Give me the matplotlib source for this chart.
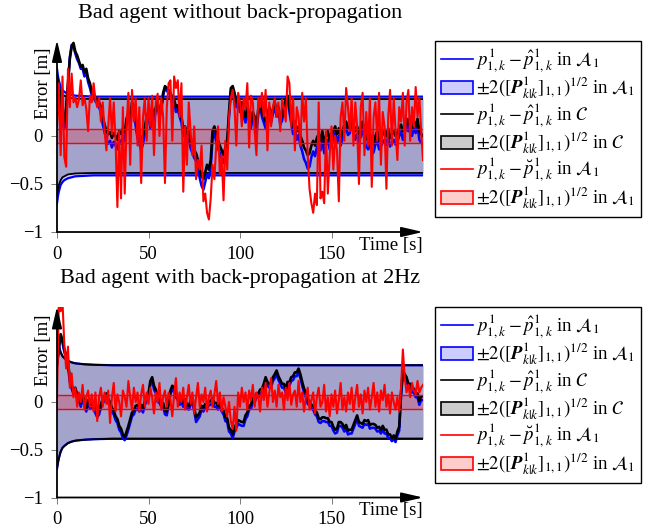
import numpy as np
import matplotlib
matplotlib.use("Agg")
from matplotlib import pyplot as plt
from matplotlib.lines import Line2D
from matplotlib.patches import Patch

plt.rcParams['font.family'] = ['Liberation Serif', 'DejaVu Serif']
plt.rcParams['mathtext.fontset'] = 'stix'

# time stamps [s]
t_sec = np.arange(0, 201)

# covariance bounds (symmetric, +/-)
bound_t = [0, 0.5, 1, 2, 3, 4, 6, 8, 10, 15, 20, 30, 200]
top_bound_a1 = [0.70, 0.63, 0.58, 0.51, 0.48, 0.46, 0.44, 0.43, 0.42, 0.415, 0.41, 0.41, 0.41]
top_bound_c = [0.62, 0.55, 0.51, 0.46, 0.43, 0.42, 0.40, 0.395, 0.39, 0.387, 0.385, 0.385, 0.385]
bot_bound_a1 = [0.70, 0.64, 0.59, 0.52, 0.48, 0.46, 0.43, 0.415, 0.405, 0.395, 0.39, 0.385, 0.385]
bot_bound_c = [0.70, 0.64, 0.59, 0.52, 0.48, 0.46, 0.43, 0.415, 0.405, 0.395, 0.39, 0.385, 0.385]
red_t = [0, 200]
red_bound = [0.07, 0.07]

# top panel: bad agent without back-propagation
top_black = [0.62, 0.50, 0.35, 0.20, 0.15, 0.30, 0.55, 0.80, 0.93, 0.97,
             0.88, 0.84, 0.78, 0.72, 0.74, 0.66, 0.70, 0.60, 0.55, 0.46,
             0.44, 0.40, 0.38, 0.35, 0.30, 0.20, 0.12, 0.05, 0.02, 0.04,
             -0.02, 0.03, 0.00, -0.04, 0.05, 0.02, 0.08, 0.04, 0.18, 0.24,
             0.20, 0.35, 0.30, 0.18, 0.08, 0.02, -0.05, 0.00, 0.10, 0.20,
             0.25, 0.15, 0.28, 0.22, 0.30, 0.35, 0.25, 0.30, 0.45, 0.52,
             0.50, 0.48, 0.45, 0.40, 0.38, 0.30, 0.32, 0.25, 0.20, 0.08,
             0.10, 0.02, 0.05, -0.05, -0.10, -0.15, -0.18, -0.25, -0.35, -0.42,
             -0.45, -0.38, -0.30, -0.35, -0.25, 0.05, 0.10, 0.02, -0.05, -0.10,
             -0.15, -0.20, -0.12, -0.05, 0.25, 0.50, 0.52, 0.45, 0.35, 0.40,
             0.30, 0.35, 0.25, 0.20, 0.30, 0.22, 0.15, 0.25, 0.20, 0.10,
             0.28, 0.35, 0.25, 0.20, 0.15, 0.22, 0.30, 0.20, 0.28, 0.35,
             0.25, 0.30, 0.18, 0.22, 0.30, 0.38, 0.42, 0.30, 0.20, 0.10,
             0.15, 0.05, 0.10, 0.00, -0.05, -0.12, -0.15, -0.20, -0.18, -0.10,
             -0.05, -0.10, -0.02, 0.02, -0.05, 0.05, -0.08, 0.00, 0.05, -0.05,
             0.00, 0.05, 0.10, 0.02, 0.08, -0.02, 0.05, 0.12, 0.15, 0.08,
             0.10, 0.18, 0.12, 0.05, 0.10, 0.02, 0.08, 0.15, 0.05, -0.02,
             -0.05, 0.02, -0.10, -0.08, 0.00, 0.05, -0.05, -0.02, 0.02, 0.05,
             0.00, 0.08, -0.02, 0.02, 0.05, 0.00, 0.03, 0.08, 0.12, 0.05,
             0.10, 0.18, 0.12, 0.20, 0.08, 0.15, 0.10, 0.18, 0.05, 0.02, 0.00]
top_blue = [0.58, 0.45, 0.30, 0.12, 0.08, 0.26, 0.52, 0.82, 0.95, 0.93,
            0.86, 0.80, 0.76, 0.70, 0.70, 0.62, 0.66, 0.56, 0.50, 0.42,
            0.40, 0.36, 0.34, 0.30, 0.24, 0.12, 0.04, -0.04, -0.08, -0.05,
            -0.12, -0.06, -0.10, -0.14, -0.04, -0.08, 0.00, -0.05, 0.12, 0.20,
            0.15, 0.30, 0.25, 0.10, -0.02, -0.08, -0.15, -0.08, 0.02, 0.14,
            0.20, 0.08, 0.22, 0.16, 0.26, 0.32, 0.20, 0.26, 0.42, 0.50,
            0.47, 0.45, 0.42, 0.36, 0.34, 0.25, 0.28, 0.20, 0.14, 0.00,
            0.02, -0.06, -0.03, -0.13, -0.18, -0.23, -0.26, -0.34, -0.44, -0.52,
            -0.56, -0.48, -0.40, -0.44, -0.33, -0.03, 0.03, -0.06, -0.13, -0.18,
            -0.23, -0.28, -0.20, -0.12, 0.20, 0.47, 0.49, 0.41, 0.30, 0.36,
            0.25, 0.31, 0.20, 0.14, 0.26, 0.16, 0.08, 0.20, 0.14, 0.03,
            0.23, 0.31, 0.20, 0.14, 0.08, 0.16, 0.26, 0.14, 0.23, 0.31,
            0.20, 0.26, 0.12, 0.16, 0.26, 0.35, 0.38, 0.25, 0.13, 0.02,
            0.07, -0.04, 0.01, -0.10, -0.16, -0.24, -0.28, -0.34, -0.32, -0.22,
            -0.16, -0.21, -0.12, -0.08, -0.15, -0.05, -0.18, -0.09, -0.04, -0.14,
            -0.08, -0.03, 0.03, -0.06, 0.00, -0.10, -0.03, 0.05, 0.09, 0.01,
            0.03, 0.12, 0.05, -0.04, 0.02, -0.07, 0.00, 0.08, -0.04, -0.11,
            -0.14, -0.07, -0.19, -0.17, -0.09, -0.04, -0.14, -0.11, -0.07, -0.04,
            -0.09, 0.00, -0.11, -0.07, -0.04, -0.09, -0.06, 0.00, 0.05, -0.04,
            0.03, 0.12, 0.05, 0.14, 0.00, 0.08, 0.03, 0.12, -0.04, -0.07, -0.09]
top_red = [0.10, 0.55, -0.20, 0.62, -0.22, -0.32, 0.70, 0.30, 0.65, 0.35,
           0.40, 0.30, 0.38, 0.58, 0.32, 0.40, 0.28, 0.05, 0.42, 0.35,
           0.55, 0.38, 0.30, 0.40, 0.15, 0.35, 0.05, -0.15, 0.10, 0.40,
           0.02, 0.35, -0.05, -0.74, 0.05, -0.65, 0.30, -0.60, 0.10, 0.45,
           -0.30, 0.48, 0.15, 0.40, -0.10, 0.30, -0.49, 0.20, 0.40, -0.05,
           0.40, 0.10, 0.42, -0.20, 0.35, 0.44, 0.00, 0.40, 0.20, -0.49,
           0.30, 0.55, 0.58, -0.05, 0.62, 0.50, 0.58, 0.20, 0.55, -0.58,
           0.10, -0.30, 0.35, 0.05, -0.20, 0.10, -0.45, -0.25, -0.35, -0.10,
           -0.68, -0.60, -0.80, -0.87, -0.65, -0.30, -0.45, -0.10, 0.10, -0.40,
           -0.20, -0.67, -0.05, -0.35, 0.20, 0.40, 0.48, 0.30, -0.10, 0.45,
           0.35, 0.10, 0.40, 0.28, 0.55, -0.12, 0.42, 0.35, 0.05, -0.20,
           0.40, 0.30, 0.45, 0.20, 0.48, -0.15, 0.35, 0.10, 0.30, 0.40,
           0.20, 0.35, 0.05, 0.38, 0.30, 0.15, 0.62, 0.55, 0.10, 0.40,
           -0.15, 0.30, 0.20, -0.10, 0.45, 0.15, 0.40, -0.20, -0.55, -0.70,
           -0.80, -0.60, -0.72, 0.35, -0.65, -0.58, -0.70, 0.05, -0.60, -0.20,
           0.10, -0.35, 0.00, -0.15, -0.68, 0.20, 0.35, -0.05, 0.50, 0.30,
           0.05, 0.40, -0.10, 0.35, 0.10, -0.50, 0.30, 0.45, -0.20, 0.25,
           -0.10, 0.40, -0.53, 0.20, 0.35, -0.05, 0.45, -0.30, 0.25, 0.10,
           -0.55, 0.20, 0.48, -0.10, 0.40, 0.05, -0.25, 0.30, 0.15, 0.45,
           -0.10, 0.35, 0.48, -0.05, 0.30, 0.10, 0.51, 0.20, 0.40, 0.05, -0.25]

# bottom panel: bad agent with back-propagation at 2 Hz
bot_black = [0.40, 0.57, 0.71, 0.65, 0.55, 0.50, 0.42, 0.25, 0.18, 0.12,
             0.15, 0.08, 0.05, -0.01, 0.08, 0.00, -0.06, 0.02, -0.02, -0.03,
             0.00, -0.08, -0.12, -0.09, -0.02, 0.03, 0.05, 0.09, 0.03, 0.00,
             -0.06, -0.09, -0.15, -0.18, -0.25, -0.28, -0.34, -0.37, -0.31, -0.25,
             -0.18, -0.11, -0.09, -0.04, -0.03, -0.06, -0.03, -0.07, 0.01, 0.05,
             0.09, 0.22, 0.26, 0.17, 0.13, 0.04, 0.03, -0.01, -0.01, -0.09,
             -0.10, 0.01, 0.12, 0.17, 0.15, 0.09, 0.06, 0.01, 0.04, -0.01,
             0.03, -0.03, -0.04, 0.01, 0.04, -0.06, -0.16, -0.14, -0.11, -0.04,
             -0.06, -0.02, -0.03, 0.01, 0.01, 0.04, -0.01, -0.01, -0.04, -0.01,
             -0.06, -0.09, -0.16, -0.17, -0.27, -0.29, -0.34, -0.27, -0.23, -0.19,
             -0.20, -0.21, -0.21, -0.14, -0.11, -0.04, -0.03, 0.04, 0.04, 0.09,
             0.09, 0.13, 0.14, 0.19, 0.26, 0.21, 0.19, 0.19, 0.26, 0.29,
             0.33, 0.27, 0.23, 0.19, 0.19, 0.14, 0.21, 0.21, 0.26, 0.27,
             0.31, 0.31, 0.35, 0.29, 0.21, 0.14, 0.09, 0.02, 0.01, -0.03,
             -0.04, -0.09, -0.11, -0.17, -0.18, -0.16, -0.16, -0.17, -0.17, -0.21,
             -0.21, -0.26, -0.29, -0.28, -0.21, -0.21, -0.23, -0.27, -0.24, -0.30,
             -0.29, -0.29, -0.24, -0.19, -0.14, -0.21, -0.22, -0.23, -0.19, -0.20,
             -0.19, -0.24, -0.23, -0.23, -0.24, -0.27, -0.26, -0.29, -0.25, -0.29,
             -0.29, -0.34, -0.34, -0.38, -0.35, -0.39, -0.31, -0.26, 0.10, 0.33,
             0.29, 0.26, 0.19, 0.19, 0.14, 0.14, 0.09, 0.09, 0.01, 0.06, 0.06]
bot_blue = [0.38, 0.55, 0.68, 0.62, 0.52, 0.46, 0.38, 0.21, 0.14, 0.08,
            0.11, 0.04, 0.01, -0.05, 0.04, -0.04, -0.10, -0.02, -0.06, -0.07,
            -0.04, -0.12, -0.16, -0.13, -0.06, -0.01, 0.01, 0.05, -0.01, -0.04,
            -0.10, -0.13, -0.19, -0.22, -0.29, -0.32, -0.38, -0.40, -0.35, -0.29,
            -0.22, -0.15, -0.13, -0.08, -0.07, -0.10, -0.07, -0.11, -0.03, 0.01,
            0.05, 0.18, 0.23, 0.13, 0.09, 0.00, -0.01, -0.05, -0.05, -0.13,
            -0.14, -0.03, 0.08, 0.13, 0.11, 0.05, 0.02, -0.03, 0.00, -0.05,
            -0.01, -0.07, -0.08, -0.03, 0.00, -0.10, -0.21, -0.18, -0.15, -0.08,
            -0.10, -0.06, -0.07, -0.03, -0.03, 0.00, -0.05, -0.05, -0.08, -0.05,
            -0.10, -0.13, -0.20, -0.21, -0.31, -0.33, -0.38, -0.31, -0.27, -0.23,
            -0.24, -0.25, -0.25, -0.18, -0.15, -0.08, -0.07, 0.00, 0.00, 0.05,
            0.05, 0.09, 0.10, 0.15, 0.22, 0.17, 0.15, 0.15, 0.22, 0.25,
            0.29, 0.23, 0.19, 0.15, 0.15, 0.10, 0.17, 0.17, 0.22, 0.23,
            0.27, 0.27, 0.31, 0.25, 0.17, 0.10, 0.05, -0.02, -0.03, -0.07,
            -0.08, -0.13, -0.15, -0.21, -0.22, -0.20, -0.20, -0.21, -0.21, -0.25,
            -0.25, -0.30, -0.33, -0.32, -0.25, -0.25, -0.27, -0.31, -0.28, -0.34,
            -0.33, -0.33, -0.28, -0.23, -0.18, -0.25, -0.26, -0.27, -0.23, -0.24,
            -0.23, -0.28, -0.27, -0.27, -0.28, -0.31, -0.30, -0.33, -0.29, -0.33,
            -0.33, -0.38, -0.38, -0.41, -0.39, -0.42, -0.35, -0.30, 0.06, 0.29,
            0.25, 0.22, 0.15, 0.15, 0.10, 0.10, 0.05, 0.05, -0.03, 0.02, 0.02]
bot_red = [0.05, 1.05, 0.95, 1.05, 0.60, 0.35, 0.58, 0.15, 0.30, 0.05,
           0.15, -0.05, 0.10, 0.00, 0.18, -0.08, 0.05, 0.12, -0.05, 0.08,
           -0.10, 0.10, -0.20, 0.05, 0.15, -0.05, 0.10, -0.02, 0.12, -0.22,
           0.05, 0.20, -0.10, 0.08, 0.00, -0.15, 0.12, 0.05, -0.05, 0.22,
           0.05, -0.08, 0.15, 0.00, 0.10, -0.10, 0.08, 0.18, -0.05, 0.10,
           -0.02, 0.15, 0.05, -0.12, 0.10, 0.00, 0.20, -0.08, 0.05, 0.12,
           -0.05, 0.10, 0.02, -0.15, 0.08, 0.25, -0.05, 0.10, 0.00, 0.15,
           -0.08, 0.05, 0.18, -0.02, 0.10, -0.12, 0.05, 0.20, -0.05, 0.08,
           0.00, 0.15, -0.10, 0.05, 0.12, -0.05, 0.08, 0.22, -0.02, 0.10,
           -0.10, 0.05, -0.05, -0.15, 0.00, -0.20, -0.28, -0.05, -0.30, 0.10,
           -0.05, 0.15, 0.00, 0.10, -0.08, 0.12, 0.02, 0.18, -0.05, 0.10,
           0.05, -0.10, 0.15, 0.02, 0.20, -0.05, 0.10, 0.25, 0.00, 0.12,
           -0.05, 0.18, 0.05, 0.10, -0.08, 0.15, 0.02, 0.20, -0.03, 0.08,
           0.12, -0.05, 0.22, 0.00, 0.10, -0.10, 0.05, 0.15, -0.08, 0.02,
           0.10, -0.12, 0.05, 0.15, -0.05, 0.00, 0.18, -0.10, 0.05, -0.15,
           0.08, -0.05, 0.12, -0.12, 0.02, 0.20, -0.08, 0.05, -0.10, 0.10,
           -0.02, 0.15, -0.10, 0.05, 0.18, -0.05, 0.08, -0.12, 0.12, 0.00,
           0.15, -0.08, 0.05, 0.20, -0.05, 0.10, -0.10, 0.12, 0.02, 0.18,
           -0.05, 0.08, -0.12, 0.10, 0.00, -0.08, 0.05, -0.10, 0.15, 0.55,
           0.25, 0.10, 0.18, 0.05, 0.20, 0.12, 0.08, 0.22, 0.10, 0.15, 0.18]

titles = ['Bad agent without back-propagation', 'Bad agent with back-propagation at 2Hz']
xticks = [0, 50, 100, 150]
yticks = [-1, -0.5, 0]
ytick_labels = ['\u22121', '\u22120.5', '0']

lab_err_a = r'$p^1_{1,k}-\hat{p}^1_{1,k}$ in $\mathcal{A}_1$'
lab_cov_a = r'$\pm 2([\mathbfit{P}^1_{k|k}]_{1,1})^{1/2}$ in $\mathcal{A}_1$'
lab_err_c = r'$p^1_{1,k}-\hat{p}^1_{1,k}$ in $\mathcal{C}$'
lab_cov_c = r'$\pm 2([\mathbfit{P}^1_{k|k}]_{1,1})^{1/2}$ in $\mathcal{C}$'
lab_err_r = r'$p^1_{1,k}-\breve{p}^1_{1,k}$ in $\mathcal{A}_1$'

W, H = 661, 531
fig = plt.figure(figsize=(W / 100, H / 100), dpi=100)


def panel(ax_box, title, title_y, leg_y, b_a1, b_c, blue, black, red):
    ax = fig.add_axes(ax_box)
    ba = np.array(b_a1)
    bc = np.array(b_c)
    rb = np.array(red_bound)
    ax.fill_between(bound_t, -ba, ba, color='blue', alpha=0.2, lw=0)
    ax.fill_between(bound_t, -bc, bc, color='black', alpha=0.2, lw=0)
    ax.fill_between(red_t, -rb, rb, color='red', alpha=0.2, lw=0)
    ax.plot(bound_t, ba, color='blue', lw=1.6)
    ax.plot(bound_t, -ba, color='blue', lw=1.6)
    ax.plot(bound_t, bc, color='black', lw=1.3)
    ax.plot(bound_t, -bc, color='black', lw=1.3)
    ax.plot(t_sec, blue, color='blue', lw=1.8)
    ax.plot(t_sec, black, color='black', lw=1.9)
    ax.plot(red_t, rb, color='red', lw=1.0)
    ax.plot(red_t, -rb, color='red', lw=1.0)
    ax.plot(t_sec, red, color='red', lw=1.5)

    ax.set_xlim(0, 200)
    ax.set_ylim(-1, 1)
    for s in ax.spines.values():
        s.set_visible(False)
    arrow = dict(arrowstyle='-|>,head_length=1.3,head_width=0.3', lw=1.3,
                 color='black', shrinkA=0, shrinkB=0)
    ax.annotate('', xy=(1, 0), xytext=(0, 0), xycoords='axes fraction',
                arrowprops=arrow, annotation_clip=False, zorder=10)
    ax.annotate('', xy=(0, 1), xytext=(0, 0), xycoords='axes fraction',
                arrowprops=arrow, annotation_clip=False, zorder=10)
    ax.set_xticks(xticks)
    ax.set_yticks(yticks)
    ax.set_yticklabels(ytick_labels)
    ax.tick_params(direction='out', length=4, width=0.6, color='0.4',
                   labelsize=13.5, pad=6)
    ax.text(1.0, -0.025, 'Time [s]', transform=ax.transAxes, ha='right',
            va='top', fontsize=13.5)
    ax.text(-0.038, 0.96, 'Error [m]', transform=ax.transAxes, rotation=90,
            ha='center', va='top', fontsize=13.5)
    fig.text(240 / W, 1 - title_y / H, title, ha='center', va='baseline', fontsize=16)

    handles = [Line2D([], [], color='blue', lw=1.2, label=lab_err_a),
               Patch(facecolor=(0.8, 0.8, 1), edgecolor='blue', lw=1.2, label=lab_cov_a),
               Line2D([], [], color='black', lw=1.2, label=lab_err_c),
               Patch(facecolor=(0.8, 0.8, 0.8), edgecolor='black', lw=1.2, label=lab_cov_c),
               Line2D([], [], color='red', lw=1.2, label=lab_err_r),
               Patch(facecolor=(1, 0.8, 0.8), edgecolor='red', lw=1.2, label=lab_cov_a)]
    leg = fig.legend(handles=handles, loc='upper left',
                     bbox_to_anchor=(435 / W, 1 - leg_y / H), fontsize=13.5,
                     frameon=True, fancybox=False, framealpha=1, edgecolor='black',
                     borderaxespad=0, handlelength=1.7, handletextpad=0.2,
                     labelspacing=0.0, borderpad=0.3)
    leg.get_frame().set_linewidth(1.0)
    return ax


panel([57 / W, 1 - 232 / H, 366 / W, 192 / H], titles[0], 18, 41,
      top_bound_a1, top_bound_c, top_blue, top_black, top_red)
panel([57 / W, 1 - 497.5 / H, 366 / W, 191 / H], titles[1], 283, 307,
      bot_bound_a1, bot_bound_c, bot_blue, bot_black, bot_red)

fig.savefig('out.png', dpi=100)
